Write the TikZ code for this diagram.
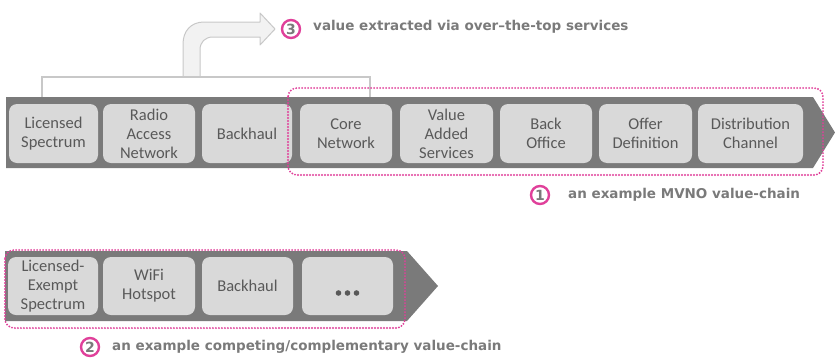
\documentclass[tikz,border=0pt]{standalone}
\usepackage{fontspec}
\setmainfont{Carlito}
\newfontfamily\labelfont{DejaVu Sans}

\definecolor{bandgray}{HTML}{7A7A7A}
\definecolor{boxfill}{HTML}{D9D9D9}
\definecolor{boxtext}{HTML}{595959}
\definecolor{chainpink}{HTML}{E0409A}
\definecolor{arrowfill}{HTML}{F2F2F2}
\definecolor{arrowline}{HTML}{C8C8C8}
\definecolor{labeltext}{HTML}{7A7A7A}

\tikzset{
  band/.style={fill=bandgray},
  stage/.style={rectangle, rounded corners=8pt, fill=boxfill, text=boxtext,
    inner sep=0pt, minimum height=59pt, align=center,
    font=\fontsize{16.5}{19}\selectfont},
  chainframe/.style={draw=chainpink, line width=2.1pt, line cap=round,
    dash pattern=on 0pt off 3pt, rounded corners=9pt},
  bracketline/.style={draw=arrowline, line width=2pt},
  bentarrow/.style={fill=arrowfill, draw=arrowline, line width=1pt, line join=round},
  numbadge/.style={circle, draw=chainpink, line width=2.4pt, fill=white,
    minimum size=18pt, inner sep=0pt, text=labeltext,
    font=\labelfont\bfseries\fontsize{14}{14}\selectfont},
  chainlabel/.style={anchor=west, inner sep=0pt, text=labeltext,
    font=\labelfont\bfseries\fontsize{13.5}{14}\selectfont}
}

\begin{document}
\begin{tikzpicture}[x=1pt, y=-1pt]
\useasboundingbox (0,0) rectangle (835,359);

% over-the-top arrow rising from the bracket
\path[bentarrow] (183,77) -- (183,44)
  .. controls (183,31) and (191,22) .. (204,22) -- (260,22) -- (260,13)
  -- (275,29) -- (260,45) -- (260,37) -- (213,37)
  .. controls (205,37) and (200,42) .. (200,50) -- (200,77) -- cycle;
\coordinate (brL) at (42,97);
\coordinate (brR) at (370,97);
\draw[bracketline] (brL) -- (42,77) -- (370,77) -- (brR);

% main value-chain band
\fill[band] (6,97) -- (813,97) -- (835,132.5) -- (813,168) -- (6,168) -- cycle;

\node[stage, minimum width=89pt]  (ls)  at (53.5,133.5) {Licensed\\Spectrum};
\node[stage, minimum width=92pt]  (ran) at (149,133.5)  {Radio\\Access\\Network};
\node[stage, minimum width=90pt]  (bh)  at (247,133.5)  {Backhaul};
\node[stage, minimum width=92pt]  (cn)  at (346,133.5)  {Core\\Network};
\node[stage, minimum width=93pt]  (vas) at (446.5,133.5){Value\\Added\\Services};
\node[stage, minimum width=92pt]  (bo)  at (546,133.5)  {Back\\Office};
\node[stage, minimum width=93pt]  (od)  at (645.5,133.5){Offer\\Definition};
\node[stage, minimum width=105pt] (dc)  at (750.5,133.5){Distribution\\Channel};

% MVNO portion of the chain
\draw[chainframe] (288,88) rectangle (823,175);

% competing / complementary band
\fill[band] (5,251) -- (407,251) -- (438,286) -- (407,321) -- (5,321) -- cycle;

\node[stage, minimum width=90pt, minimum height=58pt] (les) at (53,286)  {Licensed-\\Exempt\\Spectrum};
\node[stage, minimum width=92pt, minimum height=58pt] (wf)  at (149,286) {WiFi\\Hotspot};
\node[stage, minimum width=91pt, minimum height=58pt] (bh2) at (247.5,286) {Backhaul};
\node[stage, minimum width=91pt, minimum height=58pt] (etc) at (347.5,286) {};
\foreach \dx in {-9,0,9}
  \fill[boxtext] ([xshift=\dx pt, yshift=-7pt]etc.center) circle (2.8pt);

\draw[chainframe] (5,250) rectangle (405,328);

% numbered captions
\node[numbadge] (n3) at (291,29) {3};
\node[chainlabel] (t3) at (313,27) {value extracted via over–the-top services};

\node[numbadge] (n1) at (540,195) {1};
\node[chainlabel] (t1) at (568,195) {an example MVNO value-chain};

\node[numbadge] (n2) at (90,347) {2};
\node[chainlabel] (t2) at (112,347) {an example competing/complementary value-chain};
\end{tikzpicture}
\end{document}
